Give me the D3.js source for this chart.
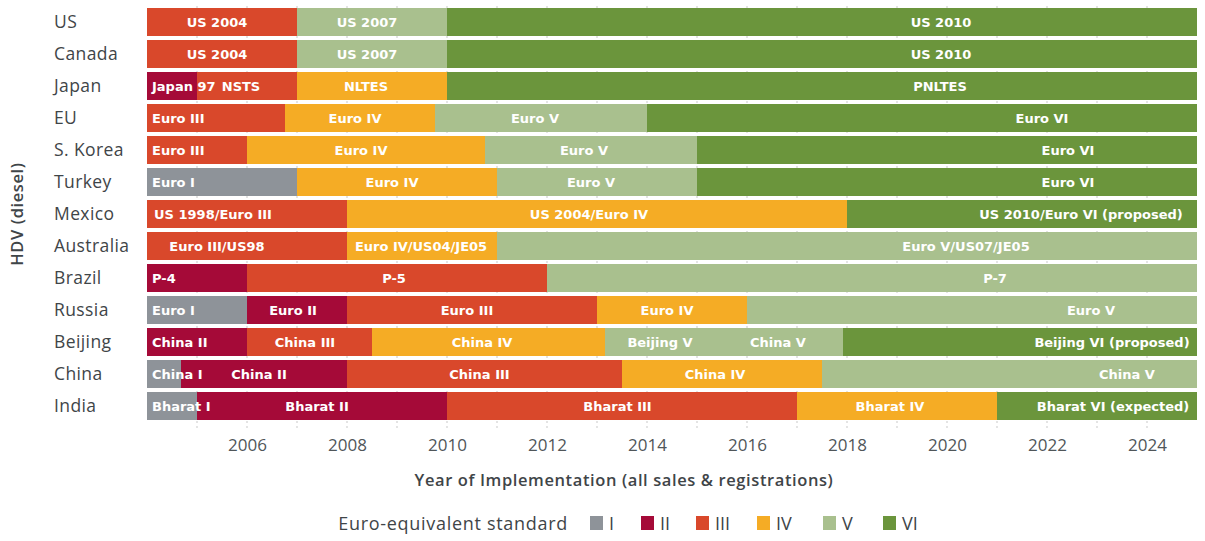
<!DOCTYPE html>
<html>
<head>
<meta charset="utf-8">
<script src="https://cdn.jsdelivr.net/npm/d3@7"></script>
<style>
  html, body { margin: 0; padding: 0; background: #fff; }
  svg { display: block; font-family: "Open Sans", "DejaVu Sans", sans-serif; }
  .barlabel { font-family: "DejaVu Sans", sans-serif; font-weight: 700; font-size: 13px; }
</style>
</head>
<body>
<svg id="chart" width="1205" height="541"></svg>
<script>
// ---------------- DATA ----------------
const countries = ["US", "Canada", "Japan", "EU", "S. Korea", "Turkey", "Mexico",
                   "Australia", "Brazil", "Russia", "Beijing", "China", "India"];
const standards = ["I", "II", "III", "IV", "V", "VI"];
const standardColors = ["#8e9399", "#a50a38", "#d9482b", "#f5ac25", "#a9c08e", "#6b953c"];
const yearTicks = [2006, 2008, 2010, 2012, 2014, 2016, 2018, 2020, 2022, 2024];
const yearGrid = [2005, 2006, 2007, 2008, 2009, 2010, 2011, 2012, 2013, 2014,
                  2015, 2016, 2017, 2018, 2019, 2020, 2021, 2022, 2023, 2024];
const yearDomain = [2004, 2025];

// phases: [start year, end year, Euro-equivalent standard]
const phasesUS        = [[2004, 2007, "III"], [2007, 2010, "V"], [2010, 2025, "VI"]];
const phasesCanada    = [[2004, 2007, "III"], [2007, 2010, "V"], [2010, 2025, "VI"]];
const phasesJapan     = [[2004, 2005, "II"], [2005, 2007, "III"], [2007, 2010, "IV"], [2010, 2025, "VI"]];
const phasesEU        = [[2004, 2006.75, "III"], [2006.75, 2009.75, "IV"], [2009.75, 2014, "V"], [2014, 2025, "VI"]];
const phasesKorea     = [[2004, 2006, "III"], [2006, 2010.75, "IV"], [2010.75, 2015, "V"], [2015, 2025, "VI"]];
const phasesTurkey    = [[2004, 2007, "I"], [2007, 2011, "IV"], [2011, 2015, "V"], [2015, 2025, "VI"]];
const phasesMexico    = [[2004, 2008, "III"], [2008, 2018, "IV"], [2018, 2025, "VI"]];
const phasesAustralia = [[2004, 2008, "III"], [2008, 2011, "IV"], [2011, 2025, "V"]];
const phasesBrazil    = [[2004, 2006, "II"], [2006, 2012, "III"], [2012, 2025, "V"]];
const phasesRussia    = [[2004, 2006, "I"], [2006, 2008, "II"], [2008, 2013, "III"], [2013, 2016, "IV"], [2016, 2025, "V"]];
const phasesBeijing   = [[2004, 2006, "II"], [2006, 2008.5, "III"], [2008.5, 2013.15, "IV"], [2013.15, 2017.92, "V"], [2017.92, 2025, "VI"]];
const phasesChina     = [[2004, 2004.67, "I"], [2004.67, 2008, "II"], [2008, 2013.5, "III"], [2013.5, 2017.5, "IV"], [2017.5, 2025, "V"]];
const phasesIndia     = [[2004, 2005, "I"], [2005, 2010, "II"], [2010, 2017, "III"], [2017, 2021, "IV"], [2021, 2025, "VI"]];

// bar labels: [country, text, year position, "start" = left aligned / "middle" = centred]
const barLabels = [
  ["US", "US 2004", 2005.4, "middle"], ["US", "US 2007", 2008.4, "middle"], ["US", "US 2010", 2019.88, "middle"],
  ["Canada", "US 2004", 2005.4, "middle"], ["Canada", "US 2007", 2008.4, "middle"], ["Canada", "US 2010", 2019.88, "middle"],
  ["Japan", "Japan 97", 2004.1, "start"], ["Japan", "NSTS", 2005.88, "middle"], ["Japan", "NLTES", 2008.38, "middle"], ["Japan", "PNLTES", 2019.86, "middle"],
  ["EU", "Euro III", 2004.1, "start"], ["EU", "Euro IV", 2008.16, "middle"], ["EU", "Euro V", 2011.76, "middle"], ["EU", "Euro VI", 2021.9, "middle"],
  ["S. Korea", "Euro III", 2004.1, "start"], ["S. Korea", "Euro IV", 2008.28, "middle"], ["S. Korea", "Euro V", 2012.74, "middle"], ["S. Korea", "Euro VI", 2022.42, "middle"],
  ["Turkey", "Euro I", 2004.1, "start"], ["Turkey", "Euro IV", 2008.9, "middle"], ["Turkey", "Euro V", 2012.88, "middle"], ["Turkey", "Euro VI", 2022.42, "middle"],
  ["Mexico", "US 1998/Euro III", 2005.32, "middle"], ["Mexico", "US 2004/Euro IV", 2012.84, "middle"], ["Mexico", "US 2010/Euro VI (proposed)", 2022.68, "middle"],
  ["Australia", "Euro III/US98", 2005.4, "middle"], ["Australia", "Euro IV/US04/JE05", 2009.48, "middle"], ["Australia", "Euro V/US07/JE05", 2020.38, "middle"],
  ["Brazil", "P-4", 2004.1, "start"], ["Brazil", "P-5", 2008.94, "middle"], ["Brazil", "P-7", 2020.96, "middle"],
  ["Russia", "Euro I", 2004.1, "start"], ["Russia", "Euro II", 2006.92, "middle"], ["Russia", "Euro III", 2010.4, "middle"], ["Russia", "Euro IV", 2014.4, "middle"], ["Russia", "Euro V", 2022.88, "middle"],
  ["Beijing", "China II", 2004.1, "start"], ["Beijing", "China III", 2007.16, "middle"], ["Beijing", "China IV", 2010.7, "middle"], ["Beijing", "Beijing V", 2014.26, "middle"], ["Beijing", "China V", 2016.62, "middle"], ["Beijing", "Beijing VI (proposed)", 2023.3, "middle"],
  ["China", "China I", 2004.1, "start"], ["China", "China II", 2006.24, "middle"], ["China", "China III", 2010.65, "middle"], ["China", "China IV", 2015.36, "middle"], ["China", "China V", 2023.6, "middle"],
  ["India", "Bharat I", 2004.1, "start"], ["India", "Bharat II", 2007.4, "middle"], ["India", "Bharat III", 2013.41, "middle"], ["India", "Bharat IV", 2018.86, "middle"], ["India", "Bharat VI (expected)", 2023.32, "middle"]
];

const yAxisTitle = "HDV (diesel)";
const xAxisTitle = "Year of Implementation (all sales & registrations)";
const legendTitle = "Euro-equivalent standard";

// ---------------- BUILD ----------------
const phasesByCountry = [phasesUS, phasesCanada, phasesJapan, phasesEU, phasesKorea, phasesTurkey,
  phasesMexico, phasesAustralia, phasesBrazil, phasesRussia, phasesBeijing, phasesChina, phasesIndia];
const segments = [];
countries.forEach((c, i) => phasesByCountry[i].forEach(p =>
  segments.push({country: c, start: p[0], end: p[1], std: p[2]})));

const svg = d3.select("#chart");
const x = d3.scaleLinear().domain(yearDomain).range([147, 1197]);
const y = d3.scaleBand().domain(countries).range([6, 422]).paddingInner(0.125).paddingOuter(0.0625);
const color = d3.scaleOrdinal().domain(standards).range(standardColors);

// gridlines (dotted year marks)
svg.append("g").selectAll("line").data(yearGrid).join("line")
  .attr("x1", d => x(d)).attr("x2", d => x(d))
  .attr("y1", y.range()[0]).attr("y2", 428)
  .attr("stroke", "#c9c9c9").attr("stroke-width", 1)
  .attr("stroke-dasharray", "2,3");

// bars
svg.append("g").selectAll("rect").data(segments).join("rect")
  .attr("x", d => x(d.start))
  .attr("width", d => x(d.end) - x(d.start))
  .attr("y", d => y(d.country))
  .attr("height", y.bandwidth())
  .attr("fill", d => color(d.std))
  .attr("shape-rendering", "crispEdges");

// bar labels
svg.append("g").selectAll("text").data(barLabels).join("text")
  .attr("class", "barlabel")
  .attr("x", d => x(d[2]))
  .attr("y", d => y(d[0]) + y.bandwidth() / 2)
  .attr("dy", "0.36em")
  .attr("text-anchor", d => d[3])
  .attr("fill", "#ffffff")
  .text(d => d[1]);

// y axis (country names)
const yAxis = svg.append("g").attr("transform", "translate(54,0)")
  .call(d3.axisLeft(y).tickSize(0).tickPadding(0));
yAxis.select(".domain").remove();
yAxis.selectAll("text")
  .attr("text-anchor", "start")
  .style("font-family", "'Open Sans', sans-serif")
  .style("font-size", "17.5px")
  .style("letter-spacing", "0.4px")
  .attr("fill", "#3f4548");

// x axis
const xAxis = svg.append("g").attr("transform", "translate(0,439)")
  .call(d3.axisBottom(x).tickValues(yearTicks).tickFormat(d3.format("d")).tickSize(0).tickPadding(0));
xAxis.select(".domain").remove();
xAxis.selectAll("text")
  .style("font-family", "'Open Sans', sans-serif")
  .style("font-size", "17px")
  .attr("fill", "#505659");

// axis titles
svg.append("text")
  .attr("transform", "translate(23,214) rotate(-90)")
  .attr("text-anchor", "middle")
  .style("font-size", "16.5px")
  .style("font-weight", "600")
  .style("letter-spacing", "0.6px")
  .attr("fill", "#3f4548")
  .text(yAxisTitle);

svg.append("text")
  .attr("x", 624).attr("y", 486)
  .attr("text-anchor", "middle")
  .style("font-size", "16.5px")
  .style("font-weight", "600")
  .style("letter-spacing", "0.6px")
  .attr("fill", "#3f4548")
  .text(xAxisTitle);

// legend
const legend = svg.append("g");
legend.append("text")
  .attr("x", 568).attr("y", 530)
  .attr("text-anchor", "end")
  .style("font-size", "18px")
  .style("letter-spacing", "0.7px")
  .attr("fill", "#3f4548")
  .text(legendTitle);
const legendOffsets = [590, 641, 696, 757, 823, 883];
const li = legend.selectAll("g.item").data(standards).join("g").attr("class", "item")
  .attr("transform", (d, i) => `translate(${legendOffsets[i]},0)`);
li.append("rect").attr("x", 0).attr("y", 516).attr("width", 13).attr("height", 14)
  .attr("fill", d => color(d));
li.append("text").attr("x", 19).attr("y", 530)
  .style("font-size", "18px").attr("fill", "#3f4548").text(d => d);
</script>
</body>
</html>
